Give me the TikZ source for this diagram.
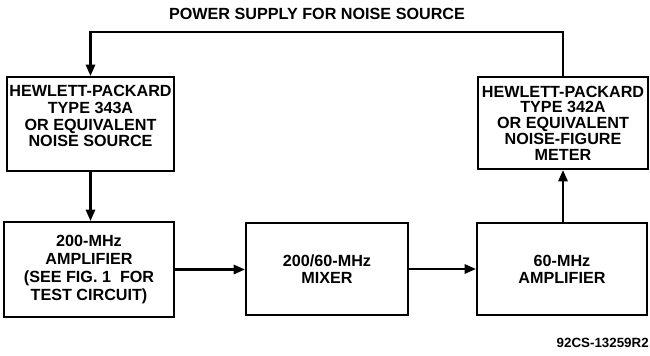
\documentclass[tikz,border=0pt]{standalone}
\usepackage{fontspec}
\setmainfont{Liberation Sans}
\usetikzlibrary{arrows.meta,positioning}
\tikzset{
  blk/.style  ={draw, line width=1.5pt, align=center, inner sep=0pt, font=\fontsize{11.5}{12}\selectfont\bfseries},
  txt/.style  ={align=center, inner sep=0pt, font=\fontsize{11.5}{12}\selectfont\bfseries},
  arr/.style  ={-{Triangle[length=2.8mm, width=2.3mm]}, line width=1.5pt},
}
\begin{document}
\begin{tikzpicture}[x=0.25mm, y=-0.25mm]
  \useasboundingbox (0,0) rectangle (650,355);
  % --- top row: noise source and meter ---
  \node[blk, minimum width=41.75mm, minimum height=23.5mm] (src) at (90.5,124) {};
  \node[txt, below=2.2mm of src.north] (srcT) {HEWLETT-PACKARD\\TYPE 343A\\OR EQUIVALENT\\NOISE SOURCE};
  \node[blk, minimum width=42.5mm, minimum height=23mm, font=\fontsize{11.5}{11.2}\selectfont\bfseries] (nfm) at (563,123)
    {HEWLETT-PACKARD\\TYPE 342A\\OR EQUIVALENT\\NOISE-FIGURE\\METER};
  % --- bottom row: signal chain ---
  \node[blk, minimum width=42.5mm, minimum height=23.75mm, font=\fontsize{11.5}{13}\selectfont\bfseries] (amp200) at (89,269.5)
    {200-MHz\\AMPLIFIER\\(SEE FIG. 1 \ FOR\\TEST CIRCUIT)};
  \node[blk, minimum width=40.5mm, minimum height=23mm] (mix) at (327,269) {200/60-MHz\\MIXER};
  \node[blk, minimum width=42.5mm, minimum height=23mm] (amp60) at (562,269) {60-MHz\\AMPLIFIER};
  % --- power supply loop ---
  \node[txt] (psT) at (317,14) {POWER SUPPLY FOR NOISE SOURCE};
  \coordinate (ps) at (317,32);
  \draw[arr] (nfm.north) |- (ps) -| (src.north);
  % --- connectors ---
  \draw[arr] (src.south) -- (src.south |- amp200.north);
  \draw[arr] (amp200.east) -- (amp200.east -| mix.west);
  \draw[arr] (mix.east) -- (mix.east -| amp60.west);
  \draw[arr] (amp60.north -| nfm.south) -- (nfm.south);
  % --- drawing number ---
  \node[txt, anchor=east, font=\fontsize{9.5}{10}\selectfont\bfseries] (fig) at (649,343) {92CS-13259R2};
\end{tikzpicture}
\end{document}
